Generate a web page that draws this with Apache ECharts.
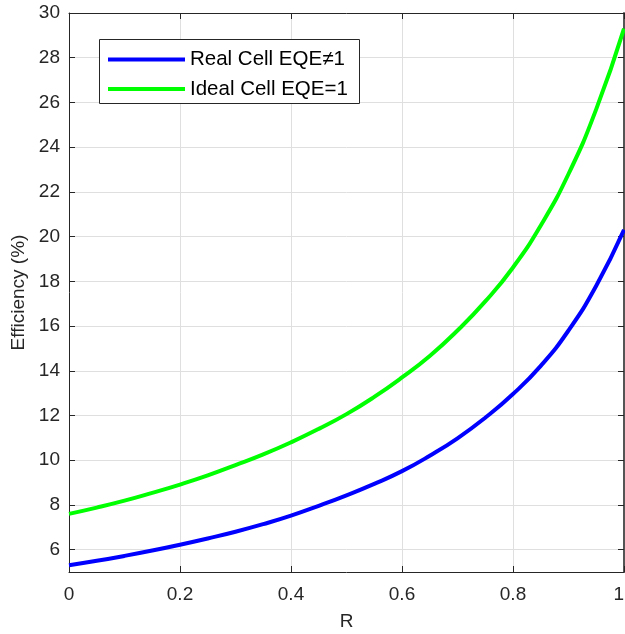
<!DOCTYPE html>
<html>
<head>
<meta charset="utf-8">
<script src="https://cdn.jsdelivr.net/npm/echarts@6/dist/echarts.min.js"></script>
<style>html,body{margin:0;padding:0;background:#fff;}#c{width:625px;height:634px;}</style>
</head>
<body>
<div id="c"></div>
<script>
const R = [0,0.05,0.1,0.15,0.2,0.25,0.3,0.35,0.4,0.45,0.5,0.55,0.6,0.65,0.7,0.75,0.8,0.85,0.9,0.95,1.0];
const realCell = [5.30,5.50,5.72,5.96,6.22,6.50,6.80,7.14,7.52,7.96,8.43,8.94,9.51,10.2,10.98,11.9,12.96,14.22,15.8,17.8,20.3];
const idealCell = [7.60,7.88,8.19,8.54,8.91,9.32,9.78,10.26,10.80,11.40,12.06,12.83,13.70,14.66,15.80,17.10,18.62,20.50,22.80,25.70,29.30];
const yTicks = [6,8,10,12,14,16,18,20,22,24,26,28,30];
const seriesNames = ['Real Cell EQE\u22601','Ideal Cell EQE=1'];

const txt = '#262626';
const font = 'Liberation Sans, Arial, sans-serif';
const chart = echarts.init(document.getElementById('c'), null, {renderer:'canvas'});
const pair = (xs, ys) => xs.map((x,i)=>[x, ys[i]]);

chart.setOption({
  animation:false,
  backgroundColor:'#fff',
  textStyle:{fontFamily:font},
  grid:{left:69, right:1, top:13, bottom:62, containLabel:false, outerBoundsMode:'none'},
  graphic:[{
    type:'rect', left:99, top:39, z:50,
    shape:{width:260, height:64},
    style:{fill:'#fff', stroke:txt, lineWidth:1}
  }],
  legend:{
    orient:'vertical', left:103, top:44, z:60,
    itemWidth:77, itemHeight:4, itemGap:8.6,
    icon:'rect',
    textStyle:{fontSize:20.5, color:'#000', fontFamily:font, lineHeight:20},
    data:seriesNames
  },
  xAxis:[{
    type:'value', min:0, max:1, interval:0.2,
    name:'R', nameLocation:'middle', nameGap:40,
    nameTextStyle:{fontSize:19, color:txt, fontFamily:font},
    axisLine:{show:true, onZero:false, lineStyle:{color:txt, width:1}},
    axisTick:{show:true, inside:true, length:6, lineStyle:{color:txt}},
    axisLabel:{fontSize:19, color:txt, margin:13, fontFamily:font, alignMaxLabel:'right',
      formatter:v=>String(+v.toFixed(1))},
    splitLine:{show:true, lineStyle:{color:'#dfdfdf', width:1}}
  },{
    type:'value', min:0, max:1, interval:0.2, position:'top',
    axisLine:{show:true, onZero:false, lineStyle:{color:txt, width:1}},
    axisTick:{show:true, inside:true, length:6, lineStyle:{color:txt}},
    axisLabel:{show:false}, splitLine:{show:false}
  }],
  yAxis:[{
    type:'value', min:5, max:30,
    name:'Efficiency (%)', nameLocation:'middle', nameGap:41,
    nameTextStyle:{fontSize:19, color:txt, fontFamily:font},
    axisLine:{show:true, onZero:false, lineStyle:{color:txt, width:1}},
    axisTick:{show:true, inside:true, length:6, lineStyle:{color:txt}, customValues:yTicks},
    axisLabel:{fontSize:19, color:txt, margin:9, fontFamily:font, customValues:yTicks},
    splitLine:{show:true, lineStyle:{color:'#dfdfdf', width:1}}
  },{
    type:'value', min:5, max:30, position:'right',
    axisLine:{show:true, onZero:false, lineStyle:{color:'#555', width:2}},
    axisTick:{show:true, inside:true, length:6, lineStyle:{color:txt}, customValues:yTicks},
    axisLabel:{show:false, customValues:yTicks}, splitLine:{show:false}
  }],
  series:[{
    name:seriesNames[0], type:'line', smooth:true, showSymbol:false,
    data:pair(R, realCell), color:'#0000ff',
    lineStyle:{width:4, color:'#0000ff'}
  },{
    name:seriesNames[1], type:'line', smooth:true, showSymbol:false,
    data:pair(R, idealCell), color:'#00ff00',
    lineStyle:{width:4, color:'#00ff00'}
  }]
});
</script>
</body>
</html>
